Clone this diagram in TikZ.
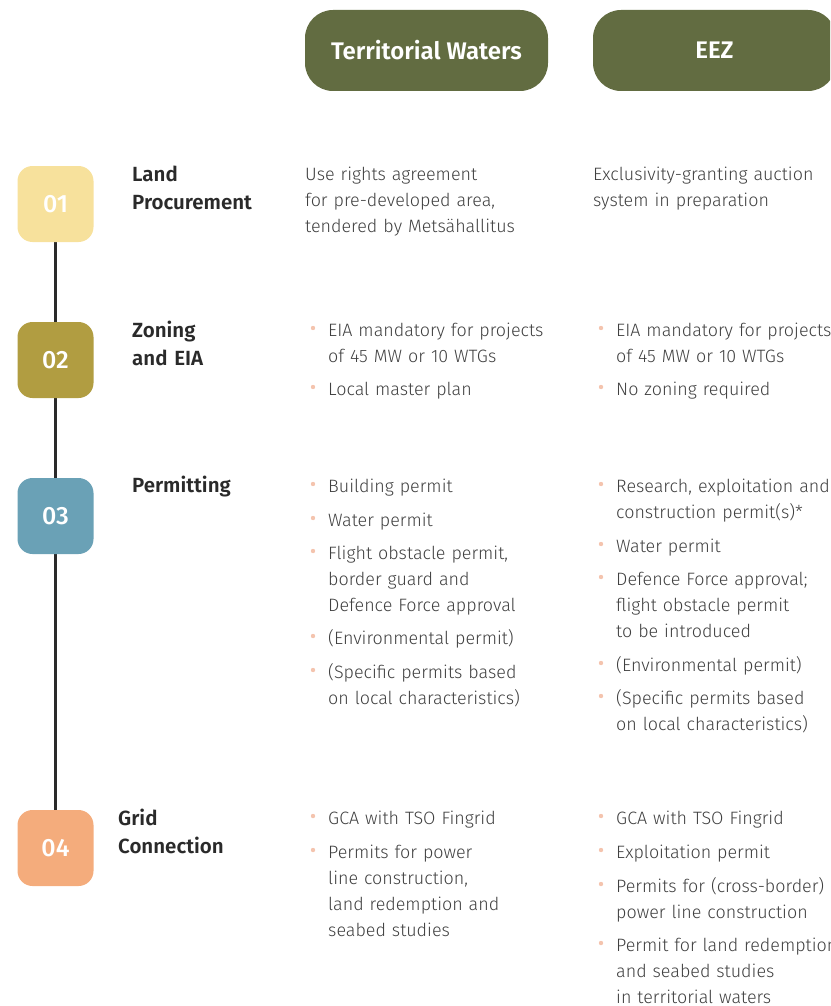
\documentclass[tikz,border=0pt]{standalone}
\usepackage{fontspec}
\setmainfont{Fira Sans}[UprightFont={* Light}, BoldFont={* SemiBold}]
\newfontfamily\numfont{Fira Sans}[UprightFont={* Medium}]

\definecolor{hdrgreen}{HTML}{626C41}
\definecolor{stageA}{HTML}{F7E19C}
\definecolor{stageB}{HTML}{B19D41}
\definecolor{stageC}{HTML}{6AA1B6}
\definecolor{stageD}{HTML}{F4AC7C}
\definecolor{dotpeach}{HTML}{F4C4AE}
\definecolor{bodygray}{HTML}{404040}
\definecolor{labelgray}{HTML}{2A2A2A}

% bullet item: name, x, baseline y, text
\newcommand\bitem[4]{%
  \node[body] (#1) at (#2,#3) {#4};
  \fill[dotpeach] ([shift={(-15pt,8pt)}]#1.base west) circle (2.2pt);}

\begin{document}
\begin{tikzpicture}[x=1pt, y=-1pt,
    hdr/.style={fill=hdrgreen, rounded corners=28pt, minimum width=243pt,
      minimum height=81pt, text=white, font=\fontsize{24}{28}\selectfont\bfseries},
    stage/.style={rounded corners=15pt, minimum size=76pt, inner sep=0pt,
      text=white, font=\numfont\fontsize{25}{30}\selectfont},
    phase/.style={anchor=base west, inner sep=0pt, text width=160pt, align=left,
      text=labelgray, font=\fontsize{20.5}{27.5}\selectfont\bfseries},
    body/.style={anchor=base west, inner sep=0pt, text width=320pt, align=left,
      text=bodygray, font=\fontsize{17.9}{26}\selectfont},
    spine/.style={draw=labelgray, line width=2.8pt}]

    \useasboundingbox (0,0) rectangle (830,1006);
    \clip (0,0) rectangle (830,1006);

    % column heads
    \node[hdr] (tw) at (426.5,50.5) {Territorial Waters};
    \node[hdr] (eez) at (714.5,50.5) {EEZ};

    % timeline
    \draw[spine] (55.5,204) coordinate (c1) -- (55.5,848) coordinate (c4);
    \node[stage, fill=stageA] (s1) at (c1) {01};
    \node[stage, fill=stageB] (s2) at (55.5,360) {02};
    \node[stage, fill=stageC] (s3) at (55.5,516) {03};
    \node[stage, fill=stageD] (s4) at (c4) {04};

    \node[phase] (p1) at (132,181.5) {Land\\Procurement};
    \node[phase] (p2) at (132,337.5) {Zoning\\and EIA};
    \node[phase] (p3) at (132,492.5) {Permitting};
    \node[phase] (p4) at (118,825.5) {Grid\\Connection};

    % land procurement
    \node[body] (tw1) at (305,180) {Use rights agreement\\for pre-developed area,\\tendered by Mets\"ahallitus};
    \node[body] (eez1) at (593,180) {Exclusivity-granting auction\\system in preparation};

    % zoning and EIA
    \bitem{tw2a}{328}{336}{EIA mandatory for projects\\of 45 MW or 10 WTGs}
    \bitem{tw2b}{328}{395}{Local master plan}
    \bitem{eez2a}{616}{336}{EIA mandatory for projects\\of 45 MW or 10 WTGs}
    \bitem{eez2b}{616}{395}{No zoning required}

    % permitting
    \bitem{tw3a}{328}{492}{Building permit}
    \bitem{tw3b}{328}{526}{Water permit}
    \bitem{tw3c}{328}{559}{Flight obstacle permit,\\border guard and\\Defence Force approval}
    \bitem{tw3d}{328}{644}{(Environmental permit)}
    \bitem{tw3e}{328}{678}{(Specific permits based\\on local characteristics)}
    \bitem{eez3a}{616}{492}{Research, exploitation and\\construction permit(s)*}
    \bitem{eez3b}{616}{552}{Water permit}
    \bitem{eez3c}{616}{585}{Defence Force approval;\\flight obstacle permit\\to be introduced}
    \bitem{eez3d}{616}{671}{(Environmental permit)}
    \bitem{eez3e}{616}{704}{(Specific permits based\\on local characteristics)}

    % grid connection
    \bitem{tw4a}{328}{824}{GCA with TSO Fingrid}
    \bitem{tw4b}{328}{858}{Permits for power\\line construction,\\land redemption and\\seabed studies}
    \bitem{eez4a}{616}{824}{GCA with TSO Fingrid}
    \bitem{eez4b}{616}{858}{Exploitation permit}
    \bitem{eez4c}{616}{892}{Permits for (cross-border)\\power line construction}
    \bitem{eez4d}{616}{951}{Permit for land redemption\\and seabed studies\\in territorial waters}
\end{tikzpicture}
\end{document}
